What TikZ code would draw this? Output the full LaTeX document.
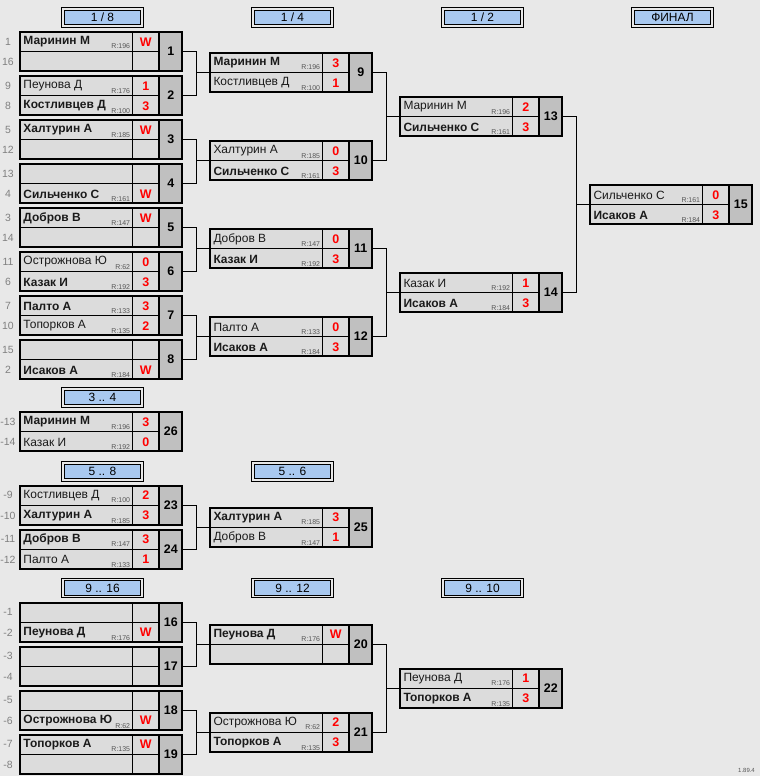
\documentclass[tikz,border=0pt]{standalone}
\usepackage{fontspec}
\setmainfont{Liberation Sans}
\definecolor{bgc}{HTML}{E8E8E8}
\definecolor{cellc}{HTML}{DCDCDC}
\definecolor{numc}{HTML}{C0C0C0}
\definecolor{hdrc}{HTML}{A9C9F0}
\definecolor{seedc}{HTML}{808080}
\definecolor{ratc}{HTML}{555555}
\definecolor{namec}{HTML}{1A1A1A}
\definecolor{scorec}{HTML}{FF0000}
\tikzset{
  matchbox/.style={minimum width=164bp, minimum height=41bp, inner sep=0pt, outer sep=0pt},
  frame/.style={line width=2bp, draw=black},
  thinline/.style={line width=0.9bp, draw=black},
  pname/.style={anchor=west, inner sep=0pt, font=\fontsize{12}{13}\selectfont, text=namec},
  rating/.style={anchor=base east, inner sep=0pt, font=\fontsize{7}{8}\selectfont, text=ratc},
  score/.style={inner sep=0pt, font=\fontsize{12.5}{13}\bfseries\selectfont, text=scorec},
  mnum/.style={inner sep=0pt, font=\fontsize{12.5}{13}\bfseries\selectfont, text=black},
  seed/.style={inner sep=0pt, font=\fontsize{10.5}{11}\selectfont, text=seedc},
  conn/.style={line width=1bp, draw=black},
  hdrout/.style={line width=0.9bp, draw=black, fill=bgc},
  hdrin/.style={line width=0.9bp, draw=black, fill=hdrc},
  hdrtext/.style={inner sep=0pt, font=\fontsize{12}{13}\selectfont, text=black}
}
% #1 id, #2 left, #3 top, #4 name1, #5 rating1, #6 score1, #7 name2, #8 rating2, #9 score2
\newcommand\match[9]{%
  \node[matchbox] (m#1) at ({#2+82},{#3+20.5}) {};
  \fill[cellc] ({#2+1},{#3+1}) rectangle ({#2+140},{#3+40});
  \fill[numc] ({#2+140},{#3+1}) rectangle ({#2+163},{#3+40});
  \draw[thinline] ({#2+1},{#3+20.5}) -- ({#2+140},{#3+20.5});
  \draw[thinline] ({#2+113},{#3+1}) -- ({#2+113},{#3+40});
  \draw[frame] ({#2+1},{#3+1}) rectangle ({#2+140},{#3+40});
  \draw[frame] ({#2+140},{#3+1}) rectangle ({#2+163},{#3+40});
  \node[pname] (m#1na) at ({#2+4},{#3+11}) {#4};
  \node[rating] (m#1ra) at ({#2+111},{#3+18}) {#5};
  \node[score] (m#1sa) at ({#2+126.5},{#3+11}) {#6};
  \node[pname] (m#1nb) at ({#2+4},{#3+31}) {#7};
  \node[rating] (m#1rb) at ({#2+111},{#3+38.5}) {#8};
  \node[score] (m#1sb) at ({#2+126.5},{#3+31}) {#9};
  \node[mnum] (m#1n) at ({#2+151.5},{#3+20.5}) {#1};
}
% #1 id, #2 top, #3 seed a, #4 seed b
\newcommand\seeds[4]{%
  \node[seed] (s#1a) at (8,{#2+10.5}) {#3};
  \node[seed] (s#1b) at (8,{#2+31}) {#4};
}
% #1 id, #2 column left, #3 top, #4 text
\newcommand\hdr[4]{%
  \draw[hdrout] ({#2+42.5},{#3+0.5}) rectangle ({#2+124},{#3+20});
  \draw[hdrin] ({#2+45},{#3+3}) rectangle ({#2+121.5},{#3+17.5});
  \node[hdrtext] (h#1) at ({#2+83.2},{#3+10.5}) {#4};
}
\begin{document}
\begin{tikzpicture}[x=1bp,y=-1bp]
\fill[bgc] (0,0) rectangle (760,776);
\useasboundingbox (0,0) rectangle (760,776);
\def\ca{19.3}\def\cb{209.3}\def\cc{399.3}\def\cd{589.3}
% headers
\hdr{a}{\ca}{7}{1 / 8}
\hdr{b}{\cb}{7}{1 / 4}
\hdr{c}{\cc}{7}{1 / 2}
\hdr{d}{\cd}{7}{ФИНАЛ}
\hdr{e}{\ca}{387}{3 .. 4}
\hdr{f}{\ca}{461}{5 .. 8}
\hdr{g}{\cb}{461}{5 .. 6}
\hdr{h}{\ca}{577.5}{9 .. 16}
\hdr{i}{\cb}{577.5}{9 .. 12}
\hdr{j}{\cc}{577.5}{9 .. 10}
% round 1
\match{1}{\ca}{31}{\bfseries Маринин М}{R:196}{W}{}{}{}
\match{2}{\ca}{75}{Пеунова Д}{R:176}{1}{\bfseries Костливцев Д}{R:100}{3}
\match{3}{\ca}{119}{\bfseries Халтурин А}{R:185}{W}{}{}{}
\match{4}{\ca}{163}{}{}{}{\bfseries Сильченко С}{R:161}{W}
\match{5}{\ca}{207}{\bfseries Добров В}{R:147}{W}{}{}{}
\match{6}{\ca}{251}{Острожнова Ю}{R:62}{0}{\bfseries Казак И}{R:192}{3}
\match{7}{\ca}{295}{\bfseries Палто А}{R:133}{3}{Топорков А}{R:135}{2}
\match{8}{\ca}{339}{}{}{}{\bfseries Исаков А}{R:184}{W}
\seeds{1}{31}{1}{16}
\seeds{2}{75}{9}{8}
\seeds{3}{119}{5}{12}
\seeds{4}{163}{13}{4}
\seeds{5}{207}{3}{14}
\seeds{6}{251}{11}{6}
\seeds{7}{295}{7}{10}
\seeds{8}{339}{15}{2}
% quarter
\match{9}{\cb}{52}{\bfseries Маринин М}{R:196}{3}{Костливцев Д}{R:100}{1}
\match{10}{\cb}{140}{Халтурин А}{R:185}{0}{\bfseries Сильченко С}{R:161}{3}
\match{11}{\cb}{228}{Добров В}{R:147}{0}{\bfseries Казак И}{R:192}{3}
\match{12}{\cb}{316}{Палто А}{R:133}{0}{\bfseries Исаков А}{R:184}{3}
% semi
\match{13}{\cc}{96}{Маринин М}{R:196}{2}{\bfseries Сильченко С}{R:161}{3}
\match{14}{\cc}{272}{Казак И}{R:192}{1}{\bfseries Исаков А}{R:184}{3}
% final
\match{15}{\cd}{184}{Сильченко С}{R:161}{0}{\bfseries Исаков А}{R:184}{3}
% 3..4
\match{26}{\ca}{411}{\bfseries Маринин М}{R:196}{3}{Казак И}{R:192}{0}
\seeds{26}{411}{-13}{-14}
% 5..8
\match{23}{\ca}{484.5}{Костливцев Д}{R:100}{2}{\bfseries Халтурин А}{R:185}{3}
\match{24}{\ca}{528.5}{\bfseries Добров В}{R:147}{3}{Палто А}{R:133}{1}
\match{25}{\cb}{506.5}{\bfseries Халтурин А}{R:185}{3}{Добров В}{R:147}{1}
\seeds{23}{484.5}{-9}{-10}
\seeds{24}{528.5}{-11}{-12}
% 9..16
\match{16}{\ca}{601.5}{}{}{}{\bfseries Пеунова Д}{R:176}{W}
\match{17}{\ca}{645.5}{}{}{}{}{}{}
\match{18}{\ca}{689.5}{}{}{}{\bfseries Острожнова Ю}{R:62}{W}
\match{19}{\ca}{733.5}{\bfseries Топорков А}{R:135}{W}{}{}{}
\seeds{16}{601.5}{-1}{-2}
\seeds{17}{645.5}{-3}{-4}
\seeds{18}{689.5}{-5}{-6}
\seeds{19}{733.5}{-7}{-8}
\match{20}{\cb}{623.5}{\bfseries Пеунова Д}{R:176}{W}{}{}{}
\match{21}{\cb}{711.5}{Острожнова Ю}{R:62}{2}{\bfseries Топорков А}{R:135}{3}
\match{22}{\cc}{667.5}{Пеунова Д}{R:176}{1}{\bfseries Топорков А}{R:135}{3}
% connectors
\foreach \a/\b/\t in {1/2/9,3/4/10,5/6/11,7/8/12,9/10/13,11/12/14,13/14/15,23/24/25,16/17/20,18/19/21,20/21/22}{
  \draw[conn] (m\a.east) -- ++(13.5,0) |- (m\t.west);
  \draw[conn] (m\b.east) -- ++(13.5,0) |- (m\t.west);
}
\node[anchor=base east, inner sep=0pt, font=\fontsize{6}{7}\selectfont, text=ratc] (ver) at (755,772) {1.89.4};
\end{tikzpicture}
\end{document}
